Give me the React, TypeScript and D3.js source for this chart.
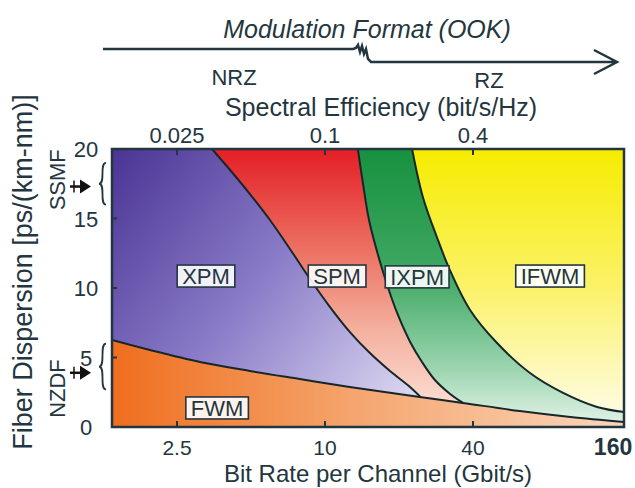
import React from 'react';
import * as d3 from 'd3';

// bit rate (Gbit/s) / dispersion (ps/(km-nm)) points along each regime boundary
const fwmEdge: [number, number][] = [
  [1.36, 6.26], [1.94, 5.54], [3.1, 4.68], [4.95, 4.03], [7.9, 3.45], [12.6, 2.88],
  [24.3, 2.16], [36.4, 1.73], [62, 1.15], [99.6, 0.72], [164.5, 0.36],
];
const xpmSpmEdge: [number, number][] = [
  [3.47, 20], [4.11, 18.49], [4.95, 16.76], [5.97, 14.89], [7.2, 12.81], [8.69, 10.65],
  [10.48, 8.63], [12.63, 6.83], [15.23, 5.32], [18.38, 4.03], [22.17, 2.88], [24.5, 2.15],
];
const spmIxpmEdge: [number, number][] = [
  [13.6, 20], [14.3, 17.41], [15.1, 14.89], [16.3, 12.59], [17.9, 10.22], [19.8, 8.06],
  [22.2, 6.12], [24.8, 4.68], [28.0, 3.38], [31.9, 2.45], [36.4, 1.73],
];
const ixpmIfwmEdge: [number, number][] = [
  [22.6, 20], [25.0, 16.55], [28.5, 13.67], [32.2, 11.29], [38.9, 8.42], [50.1, 6.04],
  [68.2, 3.88], [93.0, 2.45], [127.8, 1.44], [164.5, 1.08],
];

const bitRateTicks = [2.5, 10, 40, 160];
const efficiencyTicks = [0.025, 0.1, 0.4];
const dispersionTicks = [0, 5, 10, 15, 20];
const innerDispTicks = [5, 10, 15];

const regionLabels: [string, number, number][] = [
  ['XPM', 3.28, 10.86],
  ['SPM', 11.2, 10.86],
  ['IXPM', 23.7, 10.8],
  ['IFWM', 82.3, 10.86],
  ['FWM', 3.64, 1.37],
];
// fibre types: name, marked dispersion, brace range
const fibers: [string, number, number, number][] = [
  ['SSMF', 17.3, 16, 19],
  ['NZDF', 3.9, 2.7, 6],
];

const ink = '#233640';
const font = '"Liberation Sans", Arial, sans-serif';
const charW: Record<string, number> = { X: 0.667, P: 0.667, M: 0.833, S: 0.667, I: 0.278, F: 0.611, W: 0.944 };

const App = () => {
  const x = d3.scaleLog().domain([1.36, 164.5]).range([112, 624]);
  const y = d3.scaleLinear().domain([0, 20]).range([427, 149]);
  const [x0, x1] = x.range();
  const [y0, y1] = y.range();

  const line = d3
    .line<[number, number]>()
    .x((d) => x(d[0]))
    .y((d) => y(d[1]))
    .curve(d3.curveCatmullRom.alpha(0.5));

  // region left of a boundary: curve, then down to the bottom and back along the left edge
  const leftOf = (pts: [number, number][]) => {
    const last = pts[pts.length - 1];
    return `${line(pts)}L${x(last[0])},${y0}L${x0},${y0}L${x0},${y1}Z`;
  };
  const below = (pts: [number, number][]) => `${line(pts)}L${x1},${y0}L${x0},${y0}Z`;

  const brace = (bx: number, ya: number, yb: number, w: number) => {
    const ym = (ya + yb) / 2;
    return `M${bx + w},${ya} C${bx},${ya} ${bx + w},${ym} ${bx},${ym} C${bx + w},${ym} ${bx},${yb} ${bx + w},${yb}`;
  };

  return (
    <svg width={635} height={488} style={{ position: 'absolute', left: 0, top: 0, background: '#fff' }} fontFamily={font}>
      <defs>
        <clipPath id="plotClip">
          <rect x={x0} y={y1} width={x1 - x0} height={y0 - y1} />
        </clipPath>
        <linearGradient id="gIfwm" x1="0" y1={y1} x2="0" y2={y0} gradientUnits="userSpaceOnUse">
          <stop offset="0" stopColor="#f6ec00" />
          <stop offset="0.5" stopColor="#fbf26a" />
          <stop offset="1" stopColor="#fffdf0" />
        </linearGradient>
        <linearGradient id="gIxpm" x1="0" y1={y1} x2="0" y2={y0} gradientUnits="userSpaceOnUse">
          <stop offset="0" stopColor="#17913f" />
          <stop offset="0.45" stopColor="#3fa862" />
          <stop offset="0.8" stopColor="#9fd6b2" />
          <stop offset="1" stopColor="#e6f4ea" />
        </linearGradient>
        <linearGradient id="gSpm" x1="0" y1={y1} x2="0" y2={y0} gradientUnits="userSpaceOnUse">
          <stop offset="0" stopColor="#e41e26" />
          <stop offset="0.35" stopColor="#ec6e60" />
          <stop offset="0.65" stopColor="#f4b09e" />
          <stop offset="1" stopColor="#fdeae2" />
        </linearGradient>
        <linearGradient id="gXpm" x1={x0} y1={y1} x2={x(24)} y2={y(2)} gradientUnits="userSpaceOnUse">
          <stop offset="0" stopColor="#4a3494" />
          <stop offset="0.5" stopColor="#8a7cc8" />
          <stop offset="1" stopColor="#dedaf2" />
        </linearGradient>
        <linearGradient id="gFwm" x1={x0} y1="0" x2={x1} y2="0" gradientUnits="userSpaceOnUse">
          <stop offset="0" stopColor="#ef6e1e" />
          <stop offset="0.5" stopColor="#f5a872" />
          <stop offset="1" stopColor="#fad6bc" />
        </linearGradient>
      </defs>

      {/* modulation format arrow */}
      <text x={367} y={38} textAnchor="middle" fontSize={25} fontStyle="italic" fill={ink}>
        Modulation Format (OOK)
      </text>
      <path
        d="M103,49L353,49L356,48L358,45L360,52L362,46L364,54L366,49L368,59L371,62L617,62M594,50L617,62L594,74"
        fill="none"
        stroke={ink}
        strokeWidth={2.5}
      />
      <text x={234} y={85} textAnchor="middle" fontSize={22} fill={ink}>NRZ</text>
      <text x={489} y={88} textAnchor="middle" fontSize={22} fill={ink}>RZ</text>

      <text x={381} y={116} textAnchor="middle" fontSize={25} fill={ink}>
        Spectral Efficiency (bit/s/Hz)
      </text>

      {/* regimes */}
      <g clipPath="url(#plotClip)">
        <rect x={x0} y={y1} width={x1 - x0} height={y0 - y1} fill="url(#gIfwm)" />
        <path d={leftOf(ixpmIfwmEdge)} fill="url(#gIxpm)" />
        <path d={leftOf(spmIxpmEdge)} fill="url(#gSpm)" />
        <path d={leftOf(xpmSpmEdge)} fill="url(#gXpm)" />
        <path d={below(fwmEdge)} fill="url(#gFwm)" />
        {[fwmEdge, xpmSpmEdge, spmIxpmEdge, ixpmIfwmEdge].map((pts, i) => (
          <path key={i} d={line(pts) || ''} fill="none" stroke="#17262a" strokeWidth={2} />
        ))}
      </g>

      {regionLabels.map(([name, b, d]) => {
        const w = name.split('').reduce((s, c) => s + (charW[c] || 0.6), 0) * 22 + 10;
        return (
          <g key={name} transform={`translate(${x(b)},${y(d)})`}>
            <rect x={-w / 2} y={-11} width={w} height={22} fill="#fff" fillOpacity={0.9} stroke={ink} strokeWidth={1.6} />
            <text y={8} textAnchor="middle" fontSize={22} fill={ink}>{name}</text>
          </g>
        );
      })}

      {/* frame and ticks */}
      <rect x={x0} y={y1} width={x1 - x0} height={y0 - y1} fill="none" stroke={ink} strokeWidth={2.5} />
      {bitRateTicks.slice(0, 3).map((t) => (
        <line key={'b' + t} x1={x(t)} x2={x(t)} y1={y0} y2={y0 - 6} stroke={ink} strokeWidth={2} />
      ))}
      {efficiencyTicks.map((t) => (
        <line key={'e' + t} x1={x(t * 100)} x2={x(t * 100)} y1={y1} y2={y1 + 6} stroke={ink} strokeWidth={2} />
      ))}
      {innerDispTicks.map((t) => (
        <line key={'d' + t} x1={x0} x2={x0 + 5} y1={y(t)} y2={y(t)} stroke={ink} strokeWidth={2} />
      ))}

      {bitRateTicks.map((t) => (
        <text
          key={'bl' + t}
          x={t === 160 ? x(t) - 8 : x(t)}
          y={455}
          textAnchor="middle"
          fontSize={t === 160 ? 23 : 21}
          fontWeight={t === 160 ? 'bold' : 'normal'}
          fill={ink}
        >
          {t}
        </text>
      ))}
      {efficiencyTicks.map((t) => (
        <text key={'el' + t} x={x(t * 100)} y={143} textAnchor="middle" fontSize={22} fill={ink}>
          {t}
        </text>
      ))}
      {dispersionTicks.map((t) => (
        <text key={'dl' + t} x={86} y={y(t) + 8} textAnchor="middle" fontSize={22} fill={ink}>
          {t}
        </text>
      ))}

      <text x={378} y={482} textAnchor="middle" fontSize={24} fill={ink}>
        Bit Rate per Channel (Gbit/s)
      </text>
      <text transform="translate(32,272) rotate(-90)" textAnchor="middle" fontSize={27} fill={ink}>
        Fiber Dispersion [ps/(km-nm)]
      </text>

      {/* fibre type markers */}
      {fibers.map(([name, d, lo, hi]) => (
        <g key={name}>
          <text transform={`translate(65,${y((lo + hi) / 2) + (name === 'NZDF' ? 22 : -4)}) rotate(-90)`} textAnchor="middle" fontSize={22} fill={ink}>
            {name}
          </text>
          <line x1={70} x2={82} y1={y(d)} y2={y(d)} stroke="#111" strokeWidth={2.5} />
          <line x1={74} x2={74} y1={y(d) - 6} y2={y(d) + 6} stroke="#111" strokeWidth={1.5} />
          <path d={`M80,${y(d) - 7}L91,${y(d)}L80,${y(d) + 7}Z`} fill="#111" />
          <path d={brace(99, y(hi), y(lo), 7)} fill="none" stroke={ink} strokeWidth={1.8} />
        </g>
      ))}
    </svg>
  );
};

export default App;
